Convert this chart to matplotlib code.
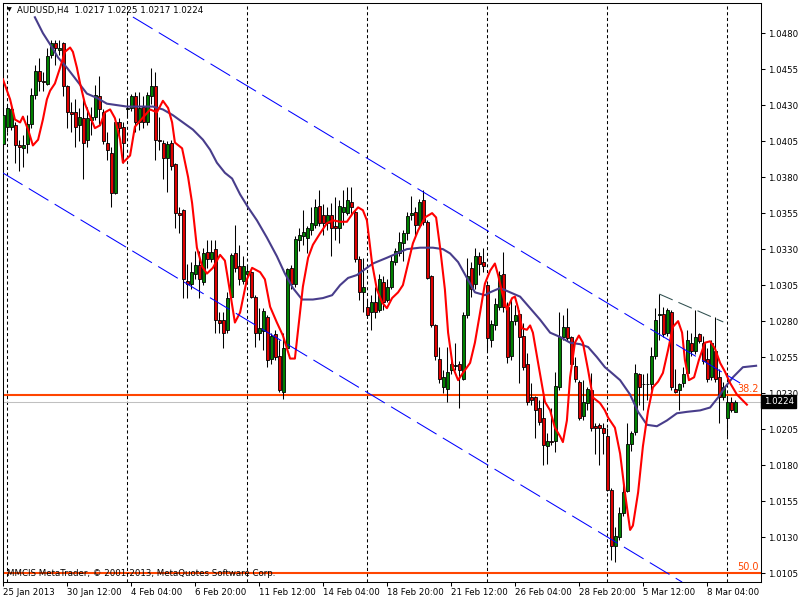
import matplotlib.pyplot as plt
import matplotlib.transforms as mtransforms

# AUDUSD H4 candles, bar 0 = 25 Jan 2013 20:00
opens = [
    1.0403, 1.0415, 1.0415, 1.0416, 1.0402, 1.0400, 1.0403, 1.0417, 1.0437, 1.0454,
    1.0447, 1.0445, 1.0465, 1.0473, 1.0468, 1.0473, 1.0443, 1.0425, 1.0425, 1.0416,
    1.0421, 1.0406, 1.0420, 1.0422, 1.0436, 1.0425, 1.0404, 1.0397, 1.0369, 1.0418,
    1.0415, 1.0427, 1.0428, 1.0436, 1.0418, 1.0429, 1.0418, 1.0436, 1.0443, 1.0406,
    1.0404, 1.0393, 1.0404, 1.0389, 1.0355, 1.0357, 1.0308, 1.0306, 1.0313, 1.0319,
    1.0307, 1.0328, 1.0323, 1.0330, 1.0281, 1.0281, 1.0274, 1.0297, 1.0327, 1.0318,
    1.0308, 1.0313, 1.0314, 1.0297, 1.0272, 1.0273, 1.0283, 1.0254, 1.0271, 1.0256,
    1.0231, 1.0261, 1.0317, 1.0306, 1.0336, 1.0339, 1.0338, 1.0343, 1.0347, 1.0360,
    1.0354, 1.0348, 1.0354, 1.0346, 1.0345, 1.0356, 1.0355, 1.0363, 1.0356, 1.0323,
    1.0300, 1.0290, 1.0286, 1.0293, 1.0288, 1.0307, 1.0295, 1.0304, 1.0321, 1.0327,
    1.0334, 1.0341, 1.0354, 1.0356, 1.0347, 1.0364, 1.0349, 1.0311, 1.0277, 1.0254,
    1.0234, 1.0233, 1.0246, 1.0249, 1.0250, 1.0240, 1.0284, 1.0317, 1.0306, 1.0325,
    1.0321, 1.0305, 1.0267, 1.0277, 1.0290, 1.0313, 1.0290, 1.0256, 1.0280, 1.0285,
    1.0270, 1.0250, 1.0227, 1.0227, 1.0220, 1.0213, 1.0193, 1.0197, 1.0197, 1.0234,
    1.0269, 1.0276, 1.0269, 1.0249, 1.0238, 1.0214, 1.0223, 1.0232, 1.0207, 1.0208,
    1.0206, 1.0200, 1.0163, 1.0124, 1.0130, 1.0147, 1.0162, 1.0195, 1.0203, 1.0243,
    1.0236, 1.0236, 1.0236, 1.0256, 1.0284, 1.0285, 1.0272, 1.0286, 1.0233, 1.0232,
    1.0237, 1.0244, 1.0265, 1.0259, 1.0271, 1.0265, 1.0254, 1.0241, 1.0259, 1.0241,
    1.0227, 1.0213, 1.0224, 1.0217,
]
highs = [
    1.0427, 1.0431, 1.0430, 1.0418, 1.0406, 1.0409, 1.0423, 1.0442, 1.0458, 1.0463,
    1.0453, 1.0470, 1.0475, 1.0475, 1.0475, 1.0474, 1.0444, 1.0432, 1.0434, 1.0428,
    1.0434, 1.0429, 1.0429, 1.0444, 1.0450, 1.0427, 1.0411, 1.0401, 1.0419, 1.0421,
    1.0418, 1.0434, 1.0438, 1.0439, 1.0439, 1.0436, 1.0439, 1.0456, 1.0453, 1.0422,
    1.0406, 1.0405, 1.0406, 1.0390, 1.0359, 1.0358, 1.0320, 1.0321, 1.0329, 1.0329,
    1.0331, 1.0336, 1.0336, 1.0336, 1.0286, 1.0286, 1.0300, 1.0327, 1.0347, 1.0333,
    1.0325, 1.0319, 1.0315, 1.0298, 1.0289, 1.0289, 1.0284, 1.0272, 1.0274, 1.0267,
    1.0272, 1.0317, 1.0319, 1.0339, 1.0345, 1.0357, 1.0346, 1.0359, 1.0365, 1.0371,
    1.0361, 1.0359, 1.0362, 1.0366, 1.0364, 1.0371, 1.0373, 1.0373, 1.0357, 1.0325,
    1.0324, 1.0295, 1.0298, 1.0304, 1.0313, 1.0311, 1.0309, 1.0326, 1.0331, 1.0342,
    1.0343, 1.0356, 1.0367, 1.0359, 1.0365, 1.0371, 1.0350, 1.0312, 1.0278, 1.0262,
    1.0246, 1.0262, 1.0256, 1.0265, 1.0252, 1.0286, 1.0324, 1.0321, 1.0331, 1.0328,
    1.0331, 1.0306, 1.0281, 1.0296, 1.0315, 1.0328, 1.0293, 1.0296, 1.0291, 1.0288,
    1.0279, 1.0258, 1.0237, 1.0228, 1.0225, 1.0228, 1.0202, 1.0220, 1.0245, 1.0286,
    1.0284, 1.0289, 1.0270, 1.0255, 1.0239, 1.0239, 1.0234, 1.0244, 1.0209, 1.0209,
    1.0209, 1.0206, 1.0164, 1.0137, 1.0151, 1.0168, 1.0209, 1.0204, 1.0250, 1.0244,
    1.0243, 1.0244, 1.0262, 1.0289, 1.0299, 1.0290, 1.0289, 1.0288, 1.0247, 1.0237,
    1.0248, 1.0274, 1.0272, 1.0288, 1.0272, 1.0270, 1.0261, 1.0267, 1.0283, 1.0247,
    1.0238, 1.0227, 1.0227, 1.0225,
]
lows = [
    1.0401, 1.0411, 1.0413, 1.0390, 1.0384, 1.0387, 1.0397, 1.0414, 1.0434, 1.0440,
    1.0440, 1.0444, 1.0463, 1.0458, 1.0465, 1.0436, 1.0414, 1.0411, 1.0401, 1.0405,
    1.0379, 1.0401, 1.0409, 1.0420, 1.0416, 1.0403, 1.0392, 1.0359, 1.0368, 1.0409,
    1.0390, 1.0421, 1.0426, 1.0411, 1.0413, 1.0414, 1.0416, 1.0431, 1.0392, 1.0399,
    1.0379, 1.0370, 1.0385, 1.0345, 1.0341, 1.0296, 1.0296, 1.0302, 1.0309, 1.0296,
    1.0305, 1.0317, 1.0321, 1.0272, 1.0272, 1.0261, 1.0272, 1.0295, 1.0314, 1.0305,
    1.0306, 1.0306, 1.0296, 1.0262, 1.0267, 1.0260, 1.0248, 1.0250, 1.0253, 1.0231,
    1.0226, 1.0260, 1.0302, 1.0304, 1.0329, 1.0333, 1.0327, 1.0340, 1.0345, 1.0346,
    1.0340, 1.0343, 1.0325, 1.0336, 1.0334, 1.0347, 1.0354, 1.0354, 1.0321, 1.0295,
    1.0286, 1.0282, 1.0274, 1.0282, 1.0286, 1.0288, 1.0293, 1.0302, 1.0319, 1.0325,
    1.0322, 1.0336, 1.0350, 1.0340, 1.0345, 1.0347, 1.0309, 1.0276, 1.0253, 1.0237,
    1.0230, 1.0224, 1.0243, 1.0246, 1.0220, 1.0239, 1.0282, 1.0297, 1.0302, 1.0312,
    1.0314, 1.0259, 1.0262, 1.0274, 1.0288, 1.0286, 1.0251, 1.0253, 1.0277, 1.0237,
    1.0246, 1.0222, 1.0222, 1.0199, 1.0208, 1.0180, 1.0181, 1.0194, 1.0189, 1.0232,
    1.0267, 1.0266, 1.0247, 1.0238, 1.0211, 1.0211, 1.0218, 1.0204, 1.0188, 1.0180,
    1.0188, 1.0162, 1.0114, 1.0113, 1.0128, 1.0145, 1.0161, 1.0190, 1.0201, 1.0222,
    1.0218, 1.0225, 1.0232, 1.0254, 1.0267, 1.0269, 1.0270, 1.0232, 1.0230, 1.0218,
    1.0234, 1.0243, 1.0256, 1.0257, 1.0265, 1.0250, 1.0238, 1.0239, 1.0238, 1.0209,
    1.0225, 1.0200, 1.0217, 1.0217,
]
closes = [
    1.0423, 1.0428, 1.0427, 1.0402, 1.0401, 1.0402, 1.0417, 1.0437, 1.0454, 1.0447,
    1.0446, 1.0464, 1.0473, 1.0470, 1.0470, 1.0443, 1.0425, 1.0424, 1.0415, 1.0422,
    1.0404, 1.0421, 1.0422, 1.0437, 1.0427, 1.0405, 1.0399, 1.0369, 1.0418, 1.0414,
    1.0404, 1.0428, 1.0436, 1.0418, 1.0428, 1.0418, 1.0437, 1.0443, 1.0406, 1.0405,
    1.0393, 1.0403, 1.0388, 1.0355, 1.0354, 1.0309, 1.0306, 1.0314, 1.0319, 1.0309,
    1.0327, 1.0323, 1.0328, 1.0281, 1.0279, 1.0272, 1.0296, 1.0326, 1.0317, 1.0309,
    1.0318, 1.0315, 1.0297, 1.0272, 1.0275, 1.0287, 1.0253, 1.0270, 1.0255, 1.0232,
    1.0261, 1.0316, 1.0306, 1.0337, 1.0340, 1.0342, 1.0345, 1.0348, 1.0359, 1.0348,
    1.0348, 1.0354, 1.0345, 1.0345, 1.0360, 1.0359, 1.0364, 1.0359, 1.0323, 1.0300,
    1.0304, 1.0284, 1.0293, 1.0286, 1.0309, 1.0293, 1.0304, 1.0322, 1.0329, 1.0335,
    1.0341, 1.0353, 1.0355, 1.0347, 1.0363, 1.0349, 1.0310, 1.0277, 1.0256, 1.0240,
    1.0241, 1.0245, 1.0250, 1.0249, 1.0246, 1.0284, 1.0311, 1.0302, 1.0325, 1.0320,
    1.0318, 1.0268, 1.0278, 1.0292, 1.0312, 1.0290, 1.0255, 1.0280, 1.0284, 1.0269,
    1.0248, 1.0224, 1.0225, 1.0218, 1.0210, 1.0194, 1.0197, 1.0196, 1.0235, 1.0269,
    1.0276, 1.0268, 1.0250, 1.0240, 1.0213, 1.0224, 1.0233, 1.0206, 1.0206, 1.0206,
    1.0202, 1.0163, 1.0124, 1.0131, 1.0147, 1.0161, 1.0195, 1.0202, 1.0244, 1.0234,
    1.0236, 1.0236, 1.0256, 1.0281, 1.0285, 1.0271, 1.0288, 1.0234, 1.0231, 1.0236,
    1.0243, 1.0267, 1.0259, 1.0269, 1.0266, 1.0252, 1.0240, 1.0265, 1.0240, 1.0227,
    1.0234, 1.0224, 1.0218, 1.0224,
]

# fast moving average (red), drawn with a forward shift
fast_ma_x = [-0.1, 1.7, 2.9, 4.2, 4.9, 6.2, 7.4, 8.7, 9.9, 10.9, 11.7, 12.9, 14.2, 15.4,
             16.7, 17.4, 18.4, 19.2, 20.4, 21.7, 22.9, 24.2, 25.4, 26.7, 27.9, 29.2, 29.9,
             31.7, 32.9, 36.7, 38.4, 39.9, 41.2, 42.2, 42.9, 44.7, 46.2, 47.2, 48.4, 49.7,
             50.9, 52.4, 54.2, 55.4, 56.7, 57.9, 59.2, 60.9, 62.2, 64.2, 65.4, 66.7, 68.4,
             69.9, 71.7, 72.9, 73.7, 74.9, 76.2, 77.4, 79.2, 80.9, 82.4, 84.2, 85.9, 87.4,
             88.7, 89.9, 90.9, 92.2, 93.4, 94.7, 95.9, 97.2, 98.7, 99.9, 101.2, 102.4,
             103.7, 105.4, 107.2, 108.2, 109.2, 110.4, 111.2, 112.4, 113.7, 114.9, 116.7,
             117.9, 119.2, 120.4, 121.7, 122.9, 123.7, 124.7, 125.9, 127.2, 127.9, 128.7,
             129.7, 130.9, 131.7, 132.4, 133.7, 135.4, 136.7, 137.9, 139.2, 139.9, 140.9,
             141.7, 142.9, 143.9, 144.9, 146.2, 147.4, 149.2, 150.4, 151.2, 152.9, 154.2,
             155.4, 156.7, 157.4, 158.7, 159.9, 161.2, 162.4, 163.7, 164.9, 166.2, 167.4,
             168.7, 169.7, 170.4, 171.4, 172.7, 173.9, 175.4, 176.7, 177.9, 179.2, 180.4,
             181.7, 183.4, 185.9]
fast_ma = [1.0448, 1.0434, 1.0420, 1.0418, 1.0422, 1.0413, 1.0402, 1.0406, 1.0420, 1.0434,
           1.0440, 1.0445, 1.0456, 1.0467, 1.0470, 1.0467, 1.0456, 1.0445, 1.0431, 1.0422,
           1.0414, 1.0416, 1.0425, 1.0427, 1.0421, 1.0406, 1.0390, 1.0395, 1.0415, 1.0427,
           1.0425, 1.0433, 1.0428, 1.0418, 1.0404, 1.0400, 1.0380, 1.0362, 1.0331, 1.0318,
           1.0313, 1.0317, 1.0326, 1.0322, 1.0300, 1.0279, 1.0286, 1.0309, 1.0317, 1.0314,
           1.0309, 1.0290, 1.0279, 1.0270, 1.0254, 1.0254, 1.0274, 1.0304, 1.0324, 1.0333,
           1.0341, 1.0348, 1.0350, 1.0349, 1.0349, 1.0355, 1.0359, 1.0357, 1.0350, 1.0320,
           1.0302, 1.0293, 1.0289, 1.0296, 1.0300, 1.0305, 1.0320, 1.0334, 1.0343, 1.0352,
           1.0355, 1.0352, 1.0331, 1.0302, 1.0272, 1.0248, 1.0239, 1.0244, 1.0251, 1.0265,
           1.0286, 1.0306, 1.0315, 1.0320, 1.0312, 1.0300, 1.0288, 1.0296, 1.0297, 1.0289,
           1.0275, 1.0274, 1.0277, 1.0272, 1.0251, 1.0224, 1.0218, 1.0206, 1.0200, 1.0196,
           1.0211, 1.0241, 1.0265, 1.0270, 1.0265, 1.0246, 1.0227, 1.0223, 1.0218, 1.0213,
           1.0206, 1.0188, 1.0161, 1.0135, 1.0138, 1.0161, 1.0193, 1.0218, 1.0234, 1.0238,
           1.0244, 1.0260, 1.0276, 1.0280, 1.0272, 1.0253, 1.0239, 1.0241, 1.0253, 1.0265,
           1.0266, 1.0261, 1.0251, 1.0245, 1.0237, 1.0229, 1.0222]

# slow moving average (dark slate blue)
slow_ma_x = [7.9, 9.9, 12.2, 13.7, 15.9, 18.4, 20.9, 23.4, 25.9, 28.4, 30.9, 34.2, 37.4,
             39.9, 42.4, 44.9, 47.4, 49.9, 51.7, 53.4, 55.4, 57.2, 59.2, 61.2, 63.4, 65.9,
             68.4, 70.4, 72.4, 74.7, 77.4, 79.9, 82.2, 84.2, 86.2, 88.4, 90.4, 92.4, 95.9,
             98.4, 100.9, 104.2, 107.4, 109.9, 111.7, 113.7, 115.9, 117.9, 120.4, 121.7,
             124.2, 126.7, 129.2, 131.7, 134.2, 136.7, 139.2, 141.7, 144.2, 146.2, 148.4,
             150.4, 151.7, 154.2, 156.7, 158.7, 160.9, 163.4, 165.9, 168.4, 170.9, 174.2,
             176.7, 178.7, 180.4, 182.4, 184.9, 188.2]
slow_ma = [1.0491, 1.0480, 1.0470, 1.0463, 1.0456, 1.0447, 1.0438, 1.0435, 1.0431, 1.0430,
           1.0429, 1.0429, 1.0429, 1.0427, 1.0423, 1.0418, 1.0413, 1.0406, 1.0399, 1.0390,
           1.0383, 1.0379, 1.0368, 1.0359, 1.0350, 1.0338, 1.0325, 1.0313, 1.0303, 1.0295,
           1.0295, 1.0296, 1.0298, 1.0305, 1.0310, 1.0312, 1.0316, 1.0320, 1.0324, 1.0327,
           1.0330, 1.0331, 1.0331, 1.0330, 1.0327, 1.0321, 1.0310, 1.0300, 1.0298, 1.0300,
           1.0303, 1.0300, 1.0297, 1.0289, 1.0281, 1.0272, 1.0269, 1.0265, 1.0264, 1.0262,
           1.0255, 1.0248, 1.0245, 1.0239, 1.0229, 1.0217, 1.0208, 1.0207, 1.0211, 1.0216,
           1.0217, 1.0218, 1.0220, 1.0227, 1.0234, 1.0241, 1.0248, 1.0249]

# drawn objects
channel_upper_x = [32.4, 184.2]
channel_upper_y = [1.04912, 1.02370]
channel_lower_x = [-0.1, 169.7]
channel_lower_y = [1.03829, 1.00988]
trend_x = [164.0, 180.0]
trend_y = [1.02988, 1.02794]
fibo_levels = [1.02289, 1.01053]
fibo_labels = ["38.2", "50.0"]
bid = 1.0224
week_starts = [1, 31, 61, 91, 121, 151, 181]

tick_bars = [0, 16, 32, 48, 64, 80, 96, 112, 128, 144, 160, 176]
tick_labels = ["25 Jan 2013", "30 Jan 12:00", "4 Feb 04:00", "6 Feb 20:00",
               "11 Feb 12:00", "14 Feb 04:00", "18 Feb 20:00", "21 Feb 12:00",
               "26 Feb 04:00", "28 Feb 20:00", "5 Mar 12:00", "8 Mar 04:00"]
price_ticks = [1.0105, 1.0130, 1.0155, 1.0180, 1.0205, 1.0230, 1.0255, 1.0280,
               1.0305, 1.0330, 1.0355, 1.0380, 1.0405, 1.0430, 1.0455, 1.0480]

FS = 6.2
fig = plt.figure(figsize=(8, 6), dpi=100)
ax = fig.add_axes([2.7 / 800, 1 - 581.7 / 600, 758 / 800, 578.7 / 600])
ax.set_xlim(-0.15, 189.35)
ax.set_ylim(1.009904, 1.050092)
blend = mtransforms.blended_transform_factory(ax.transAxes, ax.transData)

# week separators
for w in week_starts:
    ax.axvline(w, color="black", lw=0.75, linestyle=(0, (3, 2.5)), zorder=1)

# fibo levels and bid line
for lvl, lab in zip(fibo_levels, fibo_labels):
    ax.axhline(lvl, color="#ff4500", lw=1.5, zorder=1.5)
    ax.text(0.9975, lvl + 0.00005, lab, transform=blend,
            color="#ff4500", fontsize=7, ha="right", va="bottom")
ax.axhline(bid, color="#c0c0c0", lw=0.75, zorder=1.4)

# candles
xs = list(range(len(closes)))
ax.vlines(xs, lows, highs, color="black", lw=0.75, zorder=2)
for i in xs:
    o, c = opens[i], closes[i]
    if c > o:
        col = "#008000"
    elif c < o:
        col = "#e00000"
    else:
        col = "black"
    h = max(abs(c - o), 0.00003)
    ax.bar(i, h, bottom=min(o, c), width=0.75, color=col, edgecolor="black",
           linewidth=0.6, zorder=3)

# moving averages
ax.plot(slow_ma_x, slow_ma, color="#483d8b", lw=1.5, zorder=4)
ax.plot(fast_ma_x, fast_ma, color="#ff0000", lw=1.5, zorder=4)

# channel and trendline
ax.plot(channel_upper_x, channel_upper_y, color="#0000ff", lw=0.75, linestyle=(0, (22, 7)), zorder=5)
ax.plot(channel_lower_x, channel_lower_y, color="#0000ff", lw=0.75, linestyle=(0, (22, 7)), zorder=5)
ax.plot(trend_x, trend_y, color="#2f4f4f", lw=0.75, linestyle=(0, (14, 6)), zorder=5)

# axes styling
for sp in ax.spines.values():
    sp.set_color("black")
    sp.set_linewidth(0.75)
ax.set_xticks(tick_bars)
ax.set_xticklabels(tick_labels, fontsize=FS, ha="left")
ax.tick_params(axis="x", direction="out", length=3, width=0.75, pad=1.5)
ax.yaxis.tick_right()
ax.set_yticks(price_ticks)
ax.set_yticklabels([f"{p:.4f}" for p in price_ticks], fontsize=FS)
ax.tick_params(axis="y", direction="out", length=3, width=0.75, pad=2)

# bid price box
ax.text(1.004, bid, f"{bid:.4f}", transform=blend,
        color="white", fontsize=FS, ha="left", va="center",
        bbox=dict(facecolor="black", edgecolor="black", pad=1.6))

# header and footer
fig.text(7 / 800, 1 - 10 / 600, "\u25bc", fontsize=4.5, va="center", ha="left")
fig.text(17 / 800, 1 - 10 / 600, "AUDUSD,H4  1.0217 1.0225 1.0217 1.0224",
         fontsize=FS, va="center", ha="left")
fig.text(7 / 800, 1 - 574 / 600, "MMCIS MetaTrader, \u00a9 2001-2013, MetaQuotes Software Corp.",
         fontsize=FS, va="center", ha="left")

fig.savefig("out.png", dpi=100)
